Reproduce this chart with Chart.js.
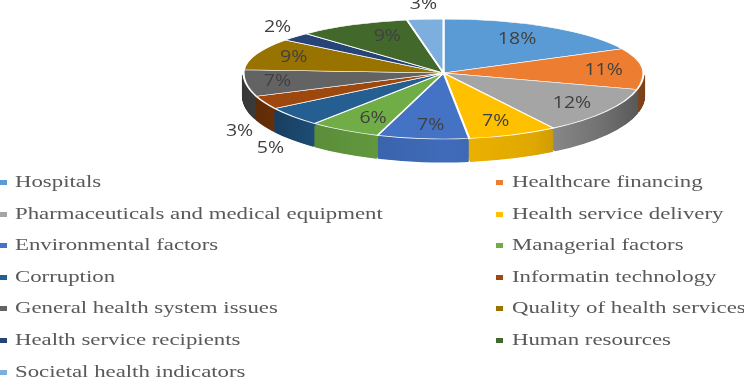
<!DOCTYPE html>
<html><head><meta charset="utf-8">
<style>
html,body{margin:0;padding:0;background:#fff;width:744px;height:379px;overflow:hidden}
#wrap{position:relative;width:744px;height:379px;overflow:hidden}
canvas{position:absolute;left:0;top:0}
.lg{position:absolute;white-space:nowrap;font:16px "Liberation Serif",serif;color:#595959;transform-origin:0 50%;line-height:18px;height:18px}
.mk{position:absolute;width:7px;height:5px}
</style>
<script src="https://cdn.jsdelivr.net/npm/chart.js@4"></script>
</head><body><div id="wrap"><canvas id="c" width="744" height="379"></canvas></div>
<script>
const categories=["Hospitals","Healthcare financing","Pharmaceuticals and medical equipment","Health service delivery","Environmental factors","Managerial factors","Corruption","Informatin technology","General health system issues","Quality of health services","Health service recipients","Human resources","Societal health indicators"];
const shares=[17.6,11.4,11.7,7.2,7.4,5.8,4.8,3.3,6.7,9.49,2.49,9.1,2.92];
const colors=["#5B9BD5","#ED7D31","#A5A5A5","#FFC000","#4472C4","#70AD47","#255E91","#9E480E","#636363","#997300","#264478","#43682B","#7CAFDD"];
const labelFx=[.70,.805,.79,.75,.62,.71,1.15,1.14,.84,.80,1.12,.62,1.09];
const labelFy=[.74,.5,.78,.79,.795,.79,1.73,1.97,.9,.8,1.25,.75,1.27];

const cx=443.5,cy=73,rx=200,ryBack=54,ryFront=66,depth=23,rimGap=2;
function shade(hex,f){const n=parseInt(hex.slice(1),16);return `rgb(${(n>>16&255)*f|0},${(n>>8&255)*f|0},${(n&255)*f|0})`;}

const pie3d={id:'pie3d',
 beforeDatasetDraw(chart,args){
  const ctx=chart.ctx,arcs=args.meta.data,R=arcs[0].outerRadius,X=arcs[0].x,Y=arcs[0].y;
  const drawArcs=(offY,ry,top,bottom,optFn)=>{
    ctx.save();
    ctx.beginPath();ctx.rect(0,top,744,bottom-top);ctx.clip();
    ctx.translate(cx,cy+offY);ctx.scale(rx/R,ry/R);ctx.translate(-X,-Y);
    arcs.forEach((el,i)=>{const o=el.options;el.options=optFn(o,i);el.draw(ctx);el.options=o;});
    ctx.restore();
  };
  const sideFill=colors.map(c=>{
    const g=ctx.createLinearGradient(X-R,0,X+R,0);
    g.addColorStop(0,shade(c,.55));g.addColorStop(.18,shade(c,.82));g.addColorStop(.5,shade(c,.94));
    g.addColorStop(.72,shade(c,.88));g.addColorStop(.9,shade(c,.68));g.addColorStop(1,shade(c,.52));
    return g;});
  for(let d=depth;d>=rimGap;d-=0.5){
    drawArcs(d,ryFront,cy+d,379,(o,i)=>({...o,backgroundColor:sideFill[i],borderWidth:0,spacing:3}));
  }
  const face=(o)=>({...o,borderWidth:2,borderColor:'#fff'});
  drawArcs(0,ryBack,0,cy,face);
  drawArcs(0,ryFront,cy,379,face);
  arcs.forEach((el,i)=>{
    const a=(el.startAngle+el.endAngle)/2+Math.PI/2,s=Math.sin(a),c=Math.cos(a);
    const lx=cx+rx*labelFx[i]*s,ly=cy-(c>0?ryBack:ryFront)*labelFy[i]*c;
    ctx.save();ctx.translate(lx,ly);ctx.scale(1.22,1);
    ctx.font='16px "Open Sans",sans-serif';ctx.fillStyle='#404040';ctx.textAlign='center';ctx.textBaseline='middle';
    ctx.fillText(Math.round(shares[i])+'%',0,0);ctx.restore();
  });
  return false;
 }};

new Chart(document.getElementById('c'),{type:'pie',
 data:{labels:categories,datasets:[{data:shares,backgroundColor:colors}]},
 options:{responsive:false,animation:false,maintainAspectRatio:false,
  plugins:{legend:{display:false},tooltip:{enabled:false}}},
 plugins:[pie3d]});

const wrap=document.getElementById('wrap');
categories.forEach((t,i)=>{
  const col=i%2,row=i>>1,y=Math.round(182+row*31.6);
  const m=document.createElement('div');m.className='mk';m.style.left=(col?496:0)+'px';m.style.top=(y-2)+'px';m.style.background=colors[i];wrap.appendChild(m);
  const s=document.createElement('div');s.className='lg';s.textContent=t;s.style.left=(col?512:15)+'px';s.style.top=(y-9)+'px';s.style.transform='scaleX(1.425)';wrap.appendChild(s);
});
</script></body></html>
